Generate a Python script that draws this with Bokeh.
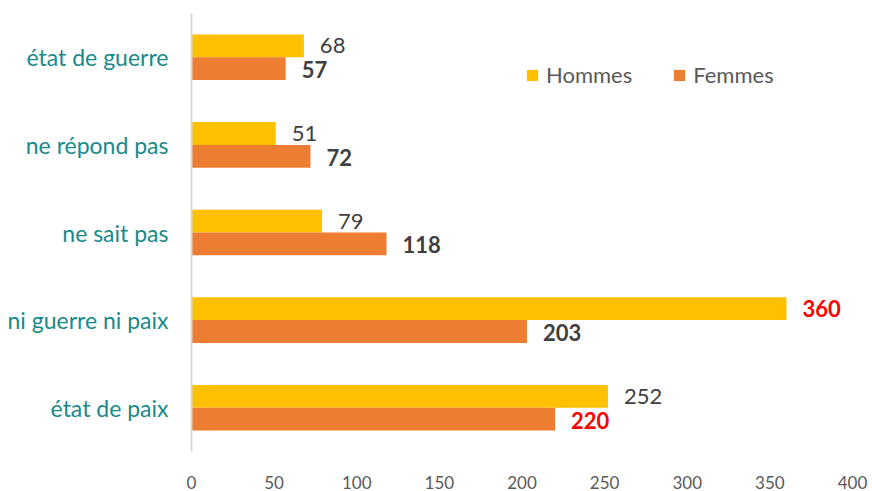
from bokeh.plotting import figure
from bokeh.models import FactorRange, Range1d, FixedTicker, ColumnDataSource, Legend, LegendItem
from bokeh.transform import dodge
from bokeh.core.properties import value
from bokeh.embed import file_html
from bokeh.resources import INLINE

categories = ["état de guerre", "ne répond pas", "ne sait pas", "ni guerre ni paix", "état de paix"]
hommes = [68, 51, 79, 360, 252]
femmes = [57, 72, 118, 203, 220]
x_ticks = [0, 50, 100, 150, 200, 250, 300, 350, 400]

FONT = "Lato"
C_H = "#FFC000"
C_F = "#ED7D31"
TEAL = "#178A8A"
GREY = "#595959"
DARK = "#404040"
RED = "#FF0000"

def label_colors(vals):
    m = max(vals)
    return [RED if v == m else DARK for v in vals]

def label_styles(vals, base):
    m = max(vals)
    return ["bold" if v == m else base for v in vals]

src = ColumnDataSource(dict(
    cat=categories,
    hommes=hommes,
    femmes=femmes,
    h_txt=[str(v) for v in hommes],
    f_txt=[str(v) for v in femmes],
    h_col=label_colors(hommes),
    f_col=label_colors(femmes),
    h_sty=label_styles(hommes, "normal"),
    f_sty=label_styles(femmes, "bold"),
))

p = figure(width=872, height=491, output_backend="svg", toolbar_location=None,
           y_range=FactorRange(factors=list(reversed(categories)), range_padding=0),
           x_range=Range1d(0, 400),
           min_border_left=191, min_border_right=20, min_border_top=13, min_border_bottom=36)

off = 0.13
bh = 0.26
rh = p.hbar(y=dodge("cat", off, range=p.y_range), right="hommes", left=0, height=bh,
            source=src, fill_color=C_H, line_color=None)
rf = p.hbar(y=dodge("cat", -off, range=p.y_range), right="femmes", left=0, height=bh,
            source=src, fill_color=C_F, line_color=None)

p.text(x="hommes", y=dodge("cat", off, range=p.y_range), text="h_txt", source=src,
       x_offset=16, text_align="left", text_baseline="middle",
       text_font_size="22px", text_color="h_col", text_font=value(FONT),
       text_font_style="h_sty")
p.text(x="femmes", y=dodge("cat", -off, range=p.y_range), text="f_txt", source=src,
       x_offset=16, y_offset=1, text_align="left", text_baseline="middle",
       text_font_size="22px", text_color="f_col", text_font=value(FONT),
       text_font_style="f_sty")

p.xgrid.visible = False
p.ygrid.visible = False
p.outline_line_color = None

xa = p.xaxis[0]
xa.ticker = FixedTicker(ticks=x_ticks)
xa.axis_line_color = None
xa.major_tick_line_color = None
xa.minor_tick_line_color = None
xa.major_label_text_color = GREY
xa.major_label_text_font = FONT
xa.major_label_text_font_size = "17px"
xa.major_label_standoff = 18

ya = p.yaxis[0]
ya.axis_line_color = "#D9D9D9"
ya.axis_line_width = 2
ya.major_tick_line_color = None
ya.minor_tick_line_color = None
ya.major_label_text_color = TEAL
ya.major_label_text_font = FONT
ya.major_label_text_font_size = "23px"
ya.major_label_standoff = 17

legend = Legend(items=[LegendItem(label="Hommes", renderers=[rh]),
                       LegendItem(label="Femmes", renderers=[rf])],
                orientation="horizontal", location=(334, 363),
                glyph_width=14, glyph_height=14, label_standoff=7, spacing=40,
                padding=0, margin=0, border_line_color=None, background_fill_alpha=0,
                label_text_font=FONT, label_text_font_size="22px", label_text_color=GREY,
                label_height=22)
p.add_layout(legend, "center")

open("out.html", "w").write(file_html(p, INLINE))
